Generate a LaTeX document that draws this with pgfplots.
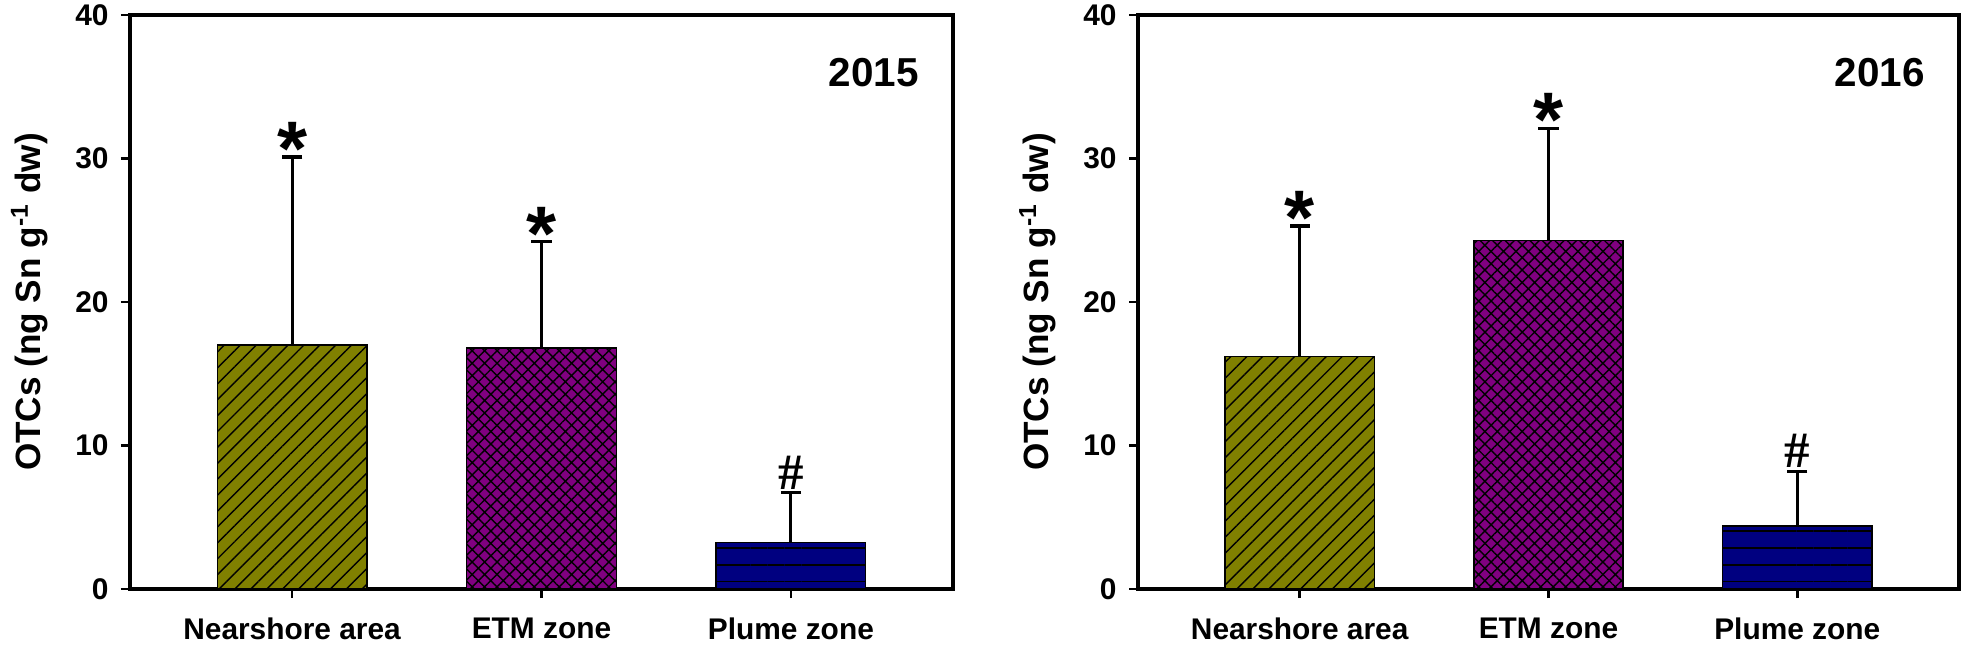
\documentclass[border=0pt]{standalone}
\usepackage{fontspec}
\setmainfont{Liberation Sans}
\newfontfamily\serifb{Liberation Serif}
\usepackage{pgfplots}
\pgfplotsset{compat=1.18}
\usetikzlibrary{patterns.meta}

\definecolor{barolive}{RGB}{128,128,0}
\definecolor{barpurple}{RGB}{128,0,128}
\definecolor{barnavy}{RGB}{0,0,128}

\pgfplotsset{
 otcs/.style={
  scale only axis, width=8.23cm, height=5.74cm,
  xmin=-0.65, xmax=2.65, ymin=0, ymax=40,
  xtick={0,1,2}, xticklabels={Nearshore area,ETM zone,Plume zone},
  ytick={0,10,20,30,40},
  tick align=outside, xtick pos=bottom, ytick pos=left,
  major tick length=0.09cm,
  axis line style={line width=1.1pt},
  tick style={line width=0.7pt,black},
  ticklabel style={font=\bfseries\fontsize{8.5}{10}\selectfont},
  xticklabel style={yshift=-2pt},
  /pgf/number format/assume math mode=true,
  ylabel={OTCs (ng Sn g\textsuperscript{-1} dw)},
  ylabel style={font=\bfseries\fontsize{10}{12}\selectfont,
   at={(axis description cs:-0.122,0.5)}, anchor=center},
  title style={font=\bfseries\fontsize{11.5}{13}\selectfont, anchor=east,
   inner sep=0pt, yshift=-6pt, at={(axis description cs:0.959,0.899)}},
  clip=false,
 },
 bar/.style={ybar, bar width=0.6, bar shift=0pt, draw=black, line width=0.4pt, forget plot},
 errs/.style={draw=none, forget plot,
  error bars/.cd, y dir=plus, y explicit, error mark=none,
  error bar style={draw=black, solid, line width=0.9pt}},
 caps/.style={only marks, mark=-, mark size=2.9pt, forget plot,
  mark options={draw=black, solid, line width=0.9pt}},
 star/.style={draw=none, forget plot, nodes near coords, point meta=explicit symbolic,
  nodes near coords style={anchor=base, inner sep=0pt, yshift=-5.3pt, text=black,
   font=\bfseries\fontsize{22}{22}\selectfont}},
 hash/.style={draw=none, forget plot, nodes near coords, point meta=explicit symbolic,
  nodes near coords style={anchor=base, inner sep=0pt, yshift=1pt, text=black,
   font=\serifb\bfseries\fontsize{14.5}{15}\selectfont}},
}

\begin{document}
\begin{tikzpicture}
\useasboundingbox (0,0) rectangle (19.65cm,6.49cm);

% 2015
\begin{axis}[otcs, at={(1.30cm,0.60cm)}, anchor=south west, title={2015}]
\addplot[bar, fill=barolive, postaction={pattern={Lines[angle=45,distance=3.2pt,line width=0.4pt]}, pattern color=black}]
 coordinates {(0,17.0)};
\addplot[bar, fill=barpurple, postaction={pattern={Hatch[angle=45,distance=2.5pt,line width=0.4pt]}, pattern color=black}]
 coordinates {(1,16.8)};
\addplot[bar, fill=barnavy, postaction={pattern={Lines[angle=0,distance=4.8pt,line width=0.5pt]}, pattern color=black}]
 coordinates {(2,3.25)};
\addplot[errs] coordinates {(0,17.0) +- (0,13.1) (1,16.8) +- (0,7.4) (2,3.25) +- (0,3.45)};
\addplot[caps] coordinates {(0,30.1) (1,24.2) (2,6.7)};
\addplot[star] coordinates {(0,30.1) [*] (1,24.2) [*]};
\addplot[hash] coordinates {(2,6.7) [\#]};
\end{axis}

% 2016
\begin{axis}[otcs, at={(11.38cm,0.60cm)}, anchor=south west, width=8.21cm, title={2016}]
\addplot[bar, fill=barolive, postaction={pattern={Lines[angle=45,distance=3.2pt,line width=0.4pt]}, pattern color=black}]
 coordinates {(0,16.2)};
\addplot[bar, fill=barpurple, postaction={pattern={Hatch[angle=45,distance=2.5pt,line width=0.4pt]}, pattern color=black}]
 coordinates {(1,24.3)};
\addplot[bar, fill=barnavy, postaction={pattern={Lines[angle=0,distance=4.8pt,line width=0.5pt]}, pattern color=black}]
 coordinates {(2,4.4)};
\addplot[errs] coordinates {(0,16.2) +- (0,9.1) (1,24.3) +- (0,7.8) (2,4.4) +- (0,3.8)};
\addplot[caps] coordinates {(0,25.3) (1,32.1) (2,8.2)};
\addplot[star] coordinates {(0,25.3) [*] (1,32.1) [*]};
\addplot[hash] coordinates {(2,8.2) [\#]};
\end{axis}
\end{tikzpicture}
\end{document}
